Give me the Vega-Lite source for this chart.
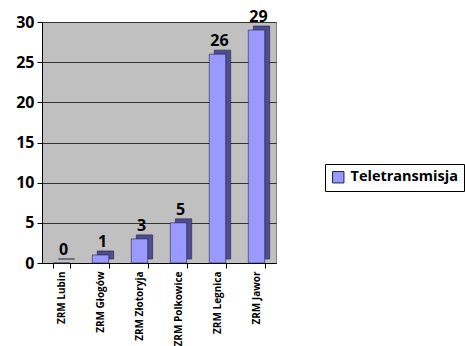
{
  "$schema": "https://vega.github.io/schema/vega-lite/v6.json",
  "width": 234,
  "height": 241,
  "autosize": {"type": "none"},
  "padding": {"left": 42, "top": 22, "right": 189, "bottom": 83},
  "background": "white",
  "config": {
    "view": {"fill": "#c0c0c0", "stroke": "#808080"},
    "font": "Open Sans"
  },
  "data": {
    "values": [
      {"site": "ZRM Lubin", "value": 0, "series": "Teletransmisja"},
      {"site": "ZRM Głogów", "value": 1, "series": "Teletransmisja"},
      {"site": "ZRM Złotoryja", "value": 3, "series": "Teletransmisja"},
      {"site": "ZRM Polkowice", "value": 5, "series": "Teletransmisja"},
      {"site": "ZRM Legnica", "value": 26, "series": "Teletransmisja"},
      {"site": "ZRM Jawor", "value": 29, "series": "Teletransmisja"}
    ]
  },
  "encoding": {
    "x": {
      "field": "site",
      "type": "nominal",
      "sort": null,
      "scale": {"paddingInner": 0.58, "paddingOuter": 0.29},
      "axis": {
        "title": null,
        "labelAngle": -90,
        "labelAlign": "right",
        "labelBaseline": "middle",
        "labelFontSize": 10,
        "labelFontWeight": "bold",
        "labelColor": "black",
        "labelPadding": 3,
        "tickBand": "extent",
        "tickColor": "black",
        "tickSize": 5,
        "domainColor": "black"
      }
    },
    "y": {
      "field": "value",
      "type": "quantitative",
      "scale": {"domain": [0, 30]},
      "axis": {
        "title": null,
        "values": [0, 5, 10, 15, 20, 25, 30],
        "labelFontSize": 16,
        "labelFontWeight": "bold",
        "labelColor": "black",
        "labelPadding": 3,
        "tickColor": "black",
        "tickSize": 5,
        "domainColor": "black",
        "gridColor": "#333333",
        "gridOpacity": 1
      }
    }
  },
  "layer": [
    {
      "mark": {"type": "bar", "color": "#4d4d8f", "xOffset": 5, "yOffset": -4, "stroke": "#222244", "strokeWidth": 0.6},
      "encoding": {}
    },
    {
      "mark": {"type": "bar", "stroke": "#222244", "strokeWidth": 0.6},
      "encoding": {
        "color": {
          "field": "series",
          "type": "nominal",
          "scale": {"range": ["#9999ff"]},
          "legend": {
            "title": null,
            "orient": "none",
            "legendX": 283,
            "legendY": 142,
            "strokeColor": "black",
            "fillColor": "white",
            "padding": 6,
            "symbolType": "square",
            "symbolSize": 130,
            "symbolStrokeColor": "#222244",
            "symbolStrokeWidth": 1,
            "labelFontSize": 14.5,
            "labelFontWeight": "bold",
            "labelColor": "black",
            "labelOffset": 5,
            "labelLimit": 300
          }
        }
      }
    },
    {
      "mark": {"type": "text", "dy": -13, "dx": 2, "fontSize": 16, "fontWeight": "bold", "color": "black"},
      "encoding": {"text": {"field": "value", "type": "quantitative"}}
    }
  ]
}
